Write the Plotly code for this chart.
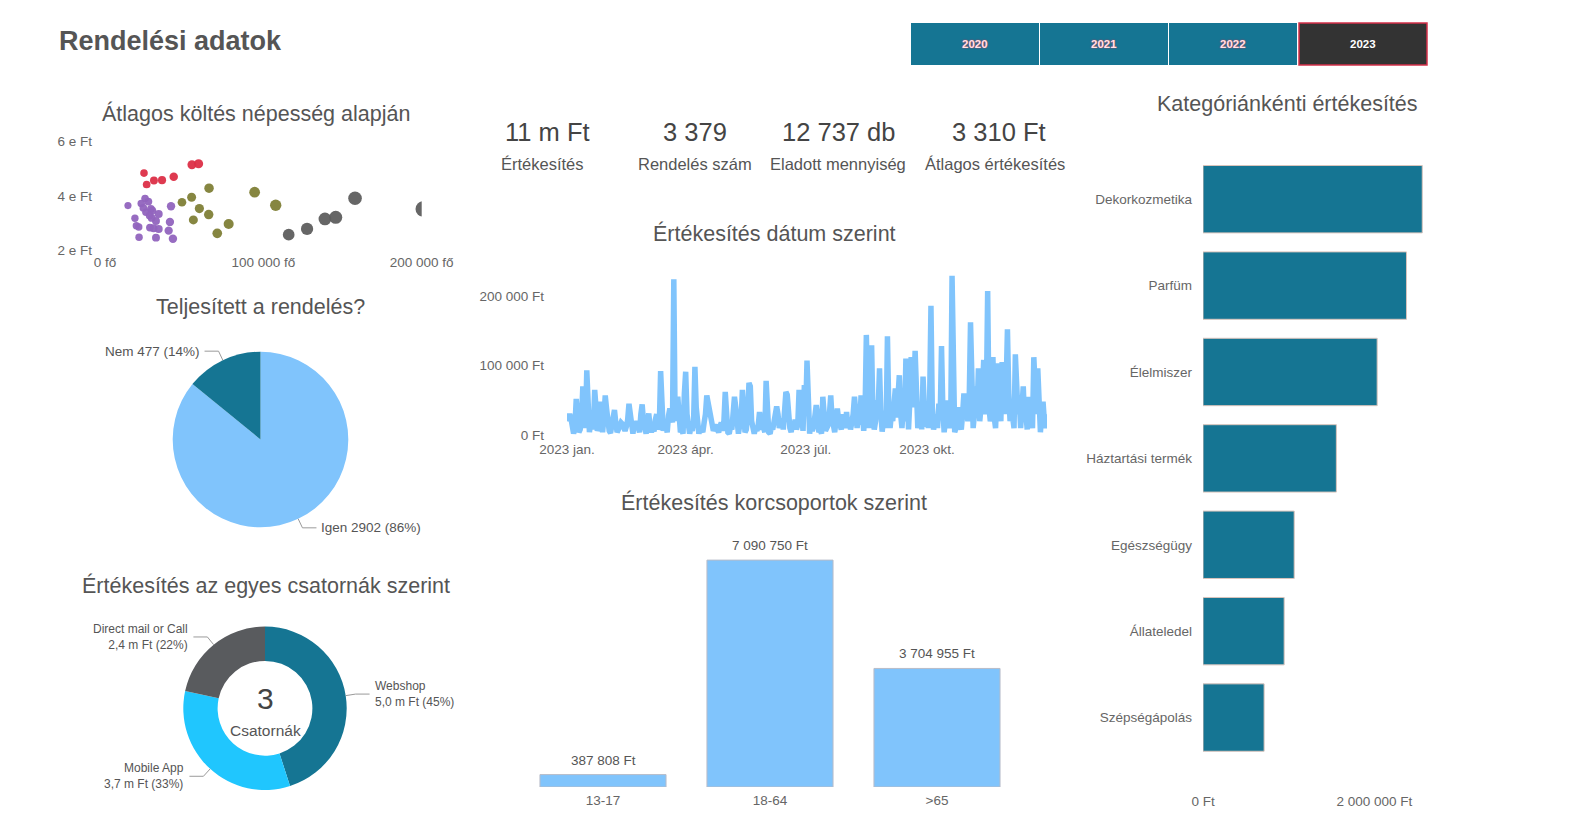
import math
import pandas as pd
import plotly.graph_objects as go

W, H = 1582, 817
FONT = "Liberation Sans, Arial, sans-serif"
TXT = "#555555"
TEAL = "#157593"
LIGHT = "#80c4fc"
CYAN = "#20c6fe"
DGRAY = "#595b5e"

# ---------------- data ----------------
years = ["2020", "2021", "2022", "2023"]
selected_year = "2023"

kpi_values = ["11 m Ft", "3 379", "12 737 db", "3 310 Ft"]
kpi_labels = ["Értékesítés", "Rendelés szám", "Eladott mennyiség", "Átlagos értékesítés"]

# scatter: population (fő) vs average spend (Ft), four groups
pop_purple = [14500, 25300, 27400, 22900, 24200, 29000, 25900, 29900, 28200, 29500, 33900, 41700,
              18900, 32200, 41000, 19800, 21300, 28400, 30700, 33900, 40200, 21500, 32200, 42900]
spend_purple = [3656, 3914, 3804, 3730, 3571, 3534, 3411, 3472, 3288, 3202, 3350, 3632,
                3190, 3092, 3055, 2920, 2871, 2847, 2822, 2798, 2736, 2491, 2479, 2442]
pop_red = [24630, 26300, 30900, 36000, 43400, 54900, 59100]
spend_red = [4847, 4429, 4577, 4589, 4712, 5153, 5190]
pop_olive = [48600, 54700, 65700, 59600, 55800, 65500, 70900, 78100, 94500, 107800]
spend_olive = [3779, 3963, 4294, 3546, 3129, 3325, 2638, 2982, 4147, 3669]
pop_gray = [116000, 127600, 138900, 145700, 157900, 201000]
spend_gray = [2589, 2798, 3166, 3227, 3926, 3534]

# completed orders pie
done_labels = ["Igen", "Nem"]
done_values = [2902, 477]

# channel donut (Ft)
channel_labels = ["Webshop", "Mobile App", "Direct mail or Call"]
channel_values = [5.0e6, 3.7e6, 2.4e6]
channel_count = 3

# daily sales 2023 (thousand Ft)
sales_jan = [20, 28, 30, 24, 5, 2, 12, 52, 30, 4, 8, 22, 70, 45, 10, 93, 60, 4, 18, 30, 8, 65, 40, 6, 12, 48, 20, 4, 25, 57, 38]
sales_feb = [15, 6, 3, 12, 30, 36, 18, 4, 8, 14, 18, 16, 10, 6, 12, 22, 45, 25, 4, 2, 15, 10, 20, 8, 4, 30, 44, 20]
sales_mar = [6, 2, 18, 31, 12, 4, 10, 5, 22, 30, 8, 14, 92, 40, 6, 20, 12, 4, 28, 38, 30, 18, 224, 20, 50, 55, 30, 4, 8, 2, 60]
sales_apr = [91, 30, 4, 2, 10, 6, 20, 98, 40, 5, 2, 12, 8, 4, 18, 30, 57, 45, 30, 20, 12, 6, 10, 15, 8, 4, 12, 18, 6, 20]
sales_may = [62, 20, 4, 2, 12, 8, 30, 55, 40, 5, 2, 14, 20, 65, 25, 4, 8, 30, 75, 70, 20, 4, 2, 10, 6, 14, 33, 20, 8, 12, 4]
sales_jun = [78, 30, 4, 2, 12, 8, 20, 25, 41, 30, 10, 18, 22, 8, 30, 62, 58, 20, 10, 4, 18, 12, 22, 8, 15, 65, 35, 10, 6, 72]
sales_jul = [30, 107, 10, 2, 20, 6, 12, 25, 43, 30, 4, 8, 2, 55, 20, 6, 10, 14, 30, 57, 25, 10, 4, 20, 38, 22, 14, 8, 30, 20, 10]
sales_aug = [33, 12, 25, 8, 18, 30, 55, 20, 10, 30, 15, 57, 20, 6, 30, 144, 60, 10, 40, 129, 30, 8, 20, 50, 40, 96, 30, 5, 20, 35, 10]
sales_sep = [142, 40, 10, 30, 20, 45, 67, 25, 50, 86, 30, 10, 40, 20, 110, 30, 8, 50, 112, 40, 60, 121, 30, 10, 20, 45, 8, 84, 40, 12]
sales_oct = [30, 10, 50, 186, 40, 8, 20, 30, 10, 45, 25, 128, 40, 4, 20, 30, 50, 10, 20, 229, 30, 4, 10, 20, 40, 15, 8, 30, 60, 25, 40]
sales_nov = [20, 50, 162, 40, 10, 30, 70, 35, 96, 20, 40, 60, 108, 30, 50, 207, 40, 20, 30, 112, 25, 10, 60, 103, 40, 20, 105, 50, 30, 70]
sales_dec = [152, 60, 20, 40, 30, 10, 116, 80, 30, 50, 10, 40, 70, 20, 30, 8, 55, 40, 20, 10, 112, 60, 30, 96, 20, 4, 30, 48, 20, 10, 30]
month_ticks = ["2023-01-01", "2023-04-01", "2023-07-01", "2023-10-01"]
month_ticktext = ["2023 jan.", "2023 ápr.", "2023 júl.", "2023 okt."]

# age groups
age_groups = ["13-17", "18-64", ">65"]
age_sales = [387808, 7090750, 3704955]

# categories
categories = ["Dekorkozmetika", "Parfüm", "Élelmiszer", "Háztartási termék", "Egészségügy", "Állateledel", "Szépségápolás"]
category_sales = [2558000, 2374000, 2032000, 1556000, 1064000, 947000, 713000]

# ---------------- helpers ----------------
def px(x):
    return x / W

def py(y):
    return 1 - y / H

def huf(v):
    return f"{v:,}".replace(",", " ")

fig = go.Figure()
annotations = []
shapes = []

def add_text(x, y, text, size, color=TXT, xanchor="center", align="center"):
    annotations.append(dict(x=px(x), y=py(y), xref="paper", yref="paper", text=text, showarrow=False,
                            xanchor=xanchor, yanchor="middle", align=align,
                            font=dict(family=FONT, size=size, color=color)))

# ---------------- header ----------------
add_text(57, 40.7, "<b>Rendelési adatok</b>", 27, "#555555", xanchor="left")

btn_x0 = [911, 1040, 1169, 1299]
btn_w = 128
for yr, x0 in zip(years, btn_x0):
    sel = yr == selected_year
    shapes.append(dict(type="rect", xref="paper", yref="paper", x0=px(x0), x1=px(x0 + btn_w),
                       y0=py(65), y1=py(23), fillcolor="#333333" if sel else TEAL,
                       line=dict(color="#d3304a" if sel else TEAL, width=1.5 if sel else 0)))
    annotations.append(dict(x=px(x0 + btn_w / 2), y=py(44.4), xref="paper", yref="paper",
                            text=f"<b>{yr}</b>", showarrow=False, xanchor="center", yanchor="middle",
                            font=dict(family=FONT, size=11.5, color="#ffffff" if sel else "#ffe3e7",
                                      shadow="none" if sel else "0px 0px 1.5px #ff2040")))

# ---------------- titles ----------------
add_text(255.8, 113.3, "Átlagos költés népesség alapján", 21.5)
add_text(260.8, 306.7, "Teljesített a rendelés?", 21.5)
add_text(265.8, 585, "Értékesítés az egyes csatornák szerint", 21.5)
add_text(774, 233, "Értékesítés dátum szerint", 21.5)
add_text(774, 502, "Értékesítés korcsoportok szerint", 21.5)
add_text(1287.8, 104, "Kategóriánkénti értékesítés", 21.5)

# KPIs
kpi_num_x = [547.4, 694.6, 838.9, 999.3]
kpi_lab_x = [542.8, 694.6, 838.4, 995.3]
for v, l, xn, xl in zip(kpi_values, kpi_labels, kpi_num_x, kpi_lab_x):
    add_text(xn, 132.2, v, 25.5, "#444444")
    add_text(xl, 163.5, l, 16.5, TXT)

# ---------------- scatter ----------------
def size_of(pops):
    return [6.5 + p * 4.5e-5 for p in pops]

for pops, spends, col, name in [(pop_purple, spend_purple, "#9164be", "A"),
                                (pop_red, spend_red, "#dc2f47", "B"),
                                (pop_olive, spend_olive, "#7f7f37", "C"),
                                (pop_gray, spend_gray, "#5e5e5e", "D")]:
    fig.add_trace(go.Scatter(x=pops, y=spends, mode="markers", name=name, xaxis="x", yaxis="y",
                             marker=dict(color=col, size=size_of(pops), opacity=0.95, line=dict(width=0)),
                             showlegend=False))

# ---------------- line ----------------
daily = (sales_jan + sales_feb + sales_mar + sales_apr + sales_may + sales_jun + sales_jul +
         sales_aug + sales_sep + sales_oct + sales_nov + sales_dec)
dates = pd.date_range("2023-01-01", periods=len(daily), freq="D")
fig.add_trace(go.Scatter(x=dates, y=[v * 1000 for v in daily], mode="lines", xaxis="x2", yaxis="y2",
                         line=dict(color=LIGHT, width=5.5), showlegend=False))

# ---------------- age bars ----------------
fig.add_trace(go.Bar(x=age_groups, y=age_sales, xaxis="x3", yaxis="y3",
                     marker=dict(color=LIGHT, line=dict(color="#b8bcc8", width=1)),
                     cliponaxis=False, showlegend=False))
for g, v in zip(age_groups, age_sales):
    annotations.append(dict(x=g, y=v, xref="x3", yref="y3", text=huf(v) + " Ft", showarrow=False,
                            xanchor="center", yanchor="bottom", yshift=5,
                            font=dict(family=FONT, size=13.5, color=TXT)))

# ---------------- category bars ----------------
fig.add_trace(go.Bar(x=category_sales, y=categories, orientation="h", xaxis="x4", yaxis="y4",
                     marker=dict(color=TEAL, line=dict(color="#d9c4bc", width=1)), showlegend=False))

# ---------------- pie (completed) ----------------
pie_cx, pie_cy, pie_r = 260.5, 439.5, 87.8
fig.add_trace(go.Pie(labels=done_labels, values=done_values, sort=False, direction="clockwise", rotation=0,
                     textinfo="none", hoverinfo="label+value+percent",
                     marker=dict(colors=[LIGHT, TEAL], line=dict(width=0)),
                     domain=dict(x=[px(pie_cx - pie_r), px(pie_cx + pie_r)],
                                 y=[py(pie_cy + pie_r), py(pie_cy - pie_r)]),
                     showlegend=False))

def leader(cx, cy, r, values, idx, texts, size):
    total = sum(values)
    start = sum(values[:idx]) / total
    mid = start + values[idx] / total / 2
    th = 2 * math.pi * mid
    dx, dy = math.sin(th), -math.cos(th)
    p = (cx + r * dx, cy + r * dy)
    e = (cx + (r + 10) * dx, cy + (r + 10) * dy)
    side = 1 if dx >= 0 else -1
    h = (e[0] + side * 14, e[1])
    for a, b in [(p, e), (e, h)]:
        shapes.append(dict(type="line", xref="paper", yref="paper", x0=px(a[0]), y0=py(a[1]),
                           x1=px(b[0]), y1=py(b[1]), line=dict(color="#9a9a9a", width=1)))
    tx = h[0] + side * 3
    add_text(tx, h[1], texts, size, TXT, xanchor="left" if side > 0 else "right",
             align="left" if side > 0 else "right")

tot_done = sum(done_values)
for i, (lab, v) in enumerate(zip(done_labels, done_values)):
    leader(pie_cx, pie_cy, pie_r, done_values, i, f"{lab} {v} ({round(100 * v / tot_done)}%)", 13.5)

# ---------------- donut (channels) ----------------
d_cx, d_cy, d_r = 265, 708.3, 81.7
fig.add_trace(go.Pie(labels=channel_labels, values=channel_values, sort=False, direction="clockwise",
                     rotation=0, hole=0.58, textinfo="none",
                     marker=dict(colors=[TEAL, CYAN, DGRAY], line=dict(width=0)),
                     domain=dict(x=[px(d_cx - d_r), px(d_cx + d_r)], y=[py(d_cy + d_r), py(d_cy - d_r)]),
                     showlegend=False))
tot_ch = sum(channel_values)
for i, (lab, v) in enumerate(zip(channel_labels, channel_values)):
    amount = f"{v / 1e6:.1f}".replace(".", ",")
    leader(d_cx, d_cy, d_r, channel_values, i, f"{lab}<br>{amount} m Ft ({round(100 * v / tot_ch)}%)", 12)
add_text(265, 698.3, str(channel_count), 30, "#444444")
add_text(265, 730, "Csatornák", 15.5, TXT)

# ---------------- layout ----------------
tickf = dict(family=FONT, size=13.5, color="#666666")
common = dict(showgrid=False, zeroline=False, showline=False, ticks="", tickfont=tickf,
              fixedrange=True, automargin=False)

fig.update_layout(
    template="none",
    width=W, height=H, margin=dict(l=0, r=0, t=0, b=0, pad=0, autoexpand=False),
    paper_bgcolor="white", plot_bgcolor="white", showlegend=False,
    font=dict(family=FONT, color=TXT),
    xaxis=dict(domain=[px(105), px(421.7)], range=[0, 200000], tickvals=[0, 100000, 200000],
               ticktext=["0 fő", "100 000 fő", "200 000 fő"], anchor="y", ticklabelstandoff=2, **common),
    yaxis=dict(domain=[py(250.7), py(141.7)], range=[2000, 6000], tickvals=[2000, 4000, 6000],
               ticktext=["2 e Ft", "4 e Ft", "6 e Ft"], anchor="x", ticklabelstandoff=12, **common),
    xaxis2=dict(domain=[px(567), px(1047)], range=["2023-01-01", "2023-12-31"], tickvals=month_ticks,
                ticktext=month_ticktext, anchor="y2", ticklabelstandoff=0, **common),
    yaxis2=dict(domain=[py(439.2), py(268.2)], range=[-6000, 240000], tickvals=[0, 100000, 200000],
                ticktext=["0 Ft", "100 000 Ft", "200 000 Ft"], anchor="x2", ticklabelstandoff=22, **common),
    xaxis3=dict(domain=[px(519.5), px(1020.5)], type="category", anchor="y3", ticklabelstandoff=3, **common),
    yaxis3=dict(domain=[py(787), py(531)], range=[0, 8000000], visible=False, anchor="x3",
                fixedrange=True, automargin=False),
    xaxis4=dict(domain=[px(1203), px(1443)], range=[0, 2800000], tickvals=[0, 2000000],
                ticktext=["0 Ft", "2 000 000 Ft"], anchor="y4", ticklabelstandoff=0, **common),
    yaxis4=dict(domain=[py(791), py(156)], type="category", categoryorder="array", categoryarray=categories,
                range=[6.85, -0.5], anchor="x4", ticklabelstandoff=10, **common),
    bargap=0.245,
    annotations=annotations, shapes=shapes,
)
fig.update_traces(selector=dict(type="bar", orientation="h"), width=0.78)

fig.write_html("out.html")
